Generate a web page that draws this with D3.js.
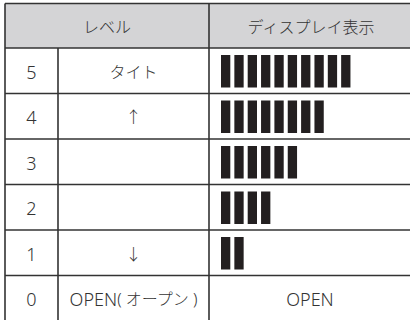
<!DOCTYPE html>
<html><head><meta charset="utf-8">
<script src="https://cdn.jsdelivr.net/npm/d3@7"></script>
<style>
html,body{margin:0;padding:0;background:#fff;overflow:hidden;}
text{font-family:"Noto Sans","Noto Sans CJK JP",sans-serif;fill:#333;font-weight:300;}
</style></head>
<body><svg id="c" width="410" height="320"></svg>
<script>
const headers = ["レベル", "ディスプレイ表示"];
const levels = [5, 4, 3, 2, 1, 0];
const labels = ["タイト", "↑", "", "", "↓", "( オープン )"];
const labelPrefix = ["", "", "", "", "", "OPEN"];
const barCounts = [10, 8, 6, 4, 2, 0];
const displayTexts = ["", "", "", "", "", "OPEN"];

const svg = d3.select("#c");
const colEdges = [5, 58, 209, 413];
const headTop = 3.5, headBottom = 48;
const y = d3.scaleBand().domain(levels).range([headBottom, headBottom + 45.5 * levels.length]);
const bx = d3.scaleLinear().domain([0, 1]).range([221, 234.35]);
const barW = 9.3;
const lineCol = "#333";

svg.append("rect").attr("x", colEdges[0]).attr("y", headTop)
  .attr("width", colEdges[3] - colEdges[0]).attr("height", headBottom - headTop)
  .attr("fill", "#d4d4d6");

levels.forEach((lv, i) => {
  const yy = y(lv);
  svg.selectAll(null).data(d3.range(barCounts[i])).enter().append("rect")
    .attr("x", d => bx(d)).attr("y", yy + 7)
    .attr("width", barW).attr("height", y.bandwidth() - 13)
    .attr("fill", "#231f20");
});

const hLines = [headTop, headBottom].concat(levels.map(l => y(l) + y.bandwidth()));
svg.selectAll("line.h").data(hLines).enter().append("line")
  .attr("x1", colEdges[0]).attr("x2", colEdges[3])
  .attr("y1", d => d).attr("y2", d => d)
  .attr("stroke", lineCol).attr("stroke-width", 1.6);
svg.append("line").attr("x1", colEdges[0]).attr("x2", colEdges[0])
  .attr("y1", headTop).attr("y2", 330).attr("stroke", lineCol).attr("stroke-width", 1.6);
svg.append("line").attr("x1", colEdges[1]).attr("x2", colEdges[1])
  .attr("y1", headBottom).attr("y2", 330).attr("stroke", lineCol).attr("stroke-width", 1.6);
svg.append("line").attr("x1", colEdges[2]).attr("x2", colEdges[2])
  .attr("y1", headTop).attr("y2", 330).attr("stroke", lineCol).attr("stroke-width", 1.6);

svg.append("text").attr("x", (colEdges[0] + colEdges[2]) / 2).attr("y", (headTop + headBottom) / 2 + 1)
  .attr("text-anchor", "middle").attr("dominant-baseline", "central")
  .attr("font-size", 16).text(headers[0]);
svg.append("text").attr("x", (colEdges[2] + colEdges[3]) / 2).attr("y", (headTop + headBottom) / 2 + 1)
  .attr("text-anchor", "middle").attr("dominant-baseline", "central")
  .attr("font-size", 16).text(headers[1]);

levels.forEach((lv, i) => {
  const cy = y(lv) + y.bandwidth() / 2 + 1;
  svg.append("text").attr("x", (colEdges[0] + colEdges[1]) / 2).attr("y", cy)
    .attr("text-anchor", "middle").attr("dominant-baseline", "central")
    .attr("font-size", 18).text(lv);
  if (labels[i]) {
    const t = svg.append("text").attr("x", (colEdges[1] + colEdges[2]) / 2).attr("y", cy)
      .attr("text-anchor", "middle").attr("dominant-baseline", "central")
      .attr("font-size", 16);
    if (labelPrefix[i]) t.append("tspan").attr("font-size", 18).text(labelPrefix[i]);
    t.append("tspan").text(labels[i]);
  }
  if (displayTexts[i]) svg.append("text").attr("x", (colEdges[2] + colEdges[3]) / 2 - 1).attr("y", cy)
    .attr("text-anchor", "middle").attr("dominant-baseline", "central")
    .attr("font-size", 18).text(displayTexts[i]);
});
</script></body></html>
